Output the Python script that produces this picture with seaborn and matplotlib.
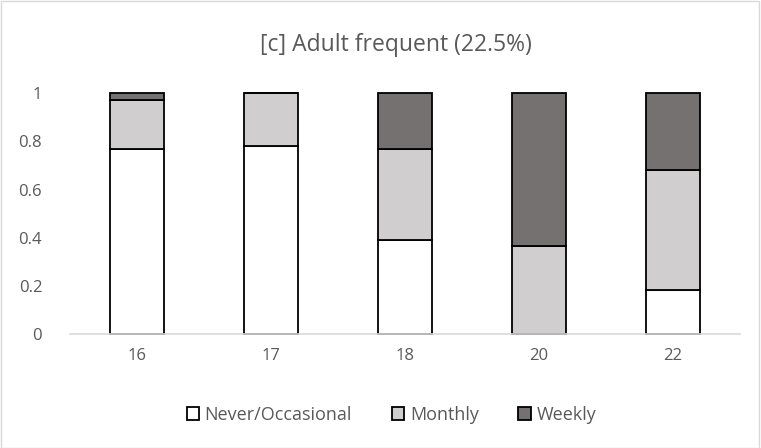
import pandas as pd
import matplotlib.pyplot as plt
from matplotlib.patches import Rectangle
import seaborn as sns

# chart data
ages = ['16', '17', '18', '20', '22']
never = [0.77, 0.78, 0.39, 0.0, 0.185]
monthly = [0.20, 0.22, 0.38, 0.367, 0.497]
weekly = [0.03, 0.0, 0.23, 0.633, 0.318]
series = ['Never/Occasional', 'Monthly', 'Weekly']
colours = ['#ffffff', '#d0cece', '#767171']

sns.set_style('white')
plt.rcParams['font.family'] = ['Open Sans', 'DejaVu Sans']

fig = plt.figure(figsize=(7.61, 4.48), dpi=100)
ax = fig.add_axes([0.092, 0.254, 0.88, 0.538])

df = pd.DataFrame({'age': ages, 'never': never, 'monthly': monthly, 'weekly': weekly})
bottoms = [0.0] * len(ages)
for col, name, c in zip(['never', 'monthly', 'weekly'], series, colours):
    sns.barplot(data=df, x='age', y=col, bottom=bottoms, color=c, width=0.4,
                edgecolor='black', linewidth=1.3, label=name, ax=ax, saturation=1)
    bottoms = [b + v for b, v in zip(bottoms, df[col])]

for p in ax.patches:
    p.set_clip_on(False)

ax.set_ylim(0, 1)
ax.set_yticks([0, 0.2, 0.4, 0.6, 0.8, 1])
ax.set_yticklabels(['0', '0.2', '0.4', '0.6', '0.8', '1'])
ax.set_xlabel('')
ax.set_ylabel('')
for s in ['top', 'right', 'left']:
    ax.spines[s].set_visible(False)
ax.spines['bottom'].set_color('#d9d9d9')
ax.spines['bottom'].set_linewidth(1.2)
ax.tick_params(axis='both', colors='#595959', labelsize=12, length=0)
ax.tick_params(axis='y', pad=20)
ax.tick_params(axis='x', pad=10)

fig.text(0.52, 0.9, '[c] Adult frequent (22.5%)', ha='center', va='center',
         fontsize=16.5, color='#595959')

ax.legend(loc='center', bbox_to_anchor=(0.48, -0.335), ncol=3, frameon=False,
          fontsize=13, labelcolor='#595959', handlelength=0.7, handleheight=0.7,
          handletextpad=0.3, columnspacing=2.2)

fig.patches.append(Rectangle((0.001, 0.001), 0.997, 0.997, transform=fig.transFigure,
                             fill=False, edgecolor='#d9d9d9', linewidth=1))

fig.savefig('out.png', dpi=100)
